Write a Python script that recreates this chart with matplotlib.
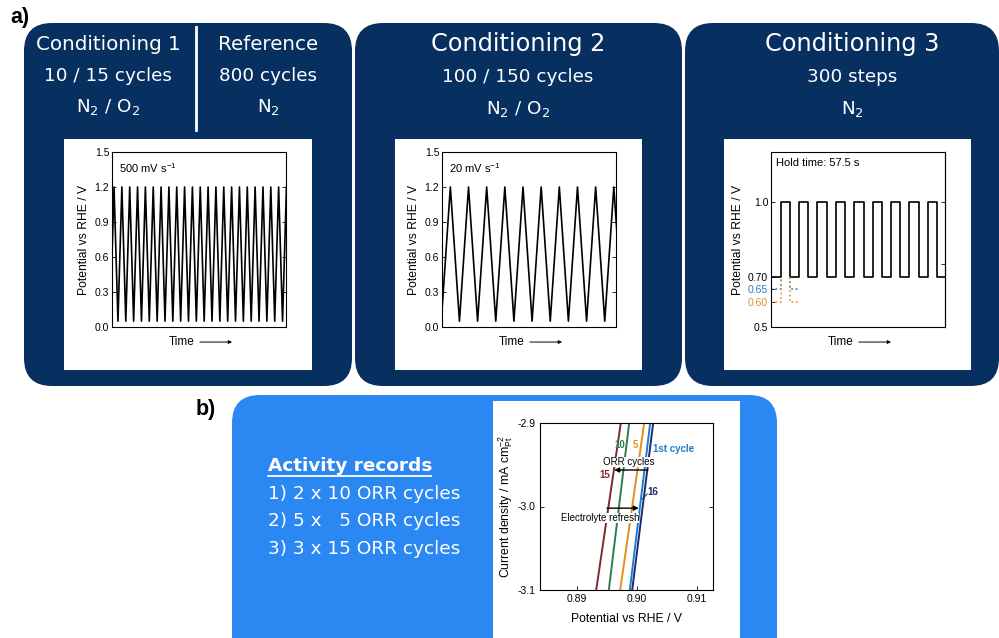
import matplotlib
matplotlib.use("Agg")
import matplotlib.pyplot as plt
from matplotlib.patches import FancyBboxPatch, Rectangle

plt.rcParams['mathtext.fontset'] = 'custom'
plt.rcParams['mathtext.rm'] = 'Liberation Sans'
plt.rcParams['mathtext.it'] = 'Liberation Sans:italic'

W, H = 999, 638
NAVY = '#072f60'
LIGHT = '#2b87f1'
PLOT_FONT = 'Liberation Sans'
BOX_FONT = 'DejaVu Sans'

# --- data ---
# panel a: potential programs
cv_low, cv_high = 0.05, 1.2
fast_cycles = 23
fast_first_peak = 0.26
fast_span = 22.2
slow_cycles = 11
slow_first_peak = 0.46
slow_span = 9.58
step_low, step_high = 0.70, 1.0
step_alt_low = [0.65, 0.60]
step_alt_colors = ['#2a7fc0', '#e3921f']
step_count = 9
step_first_rise = 0.53
step_hold = 0.51
step_span = 9.47

# panel b: ORR polarisation curves (x at j = -3.1 and j = -2.9)
curve_names = ['15', '10', '5', '1st cycle', '16']
curve_x_bottom = [0.8932, 0.8953, 0.8972, 0.8988, 0.8992]
curve_x_top = [0.8973, 0.8987, 0.9012, 0.9022, 0.9027]
curve_colors = ['#7b2a2f', '#2f7d4d', '#e5901d', '#1f7dc9', '#1c2a72']
j_range = [-3.1, -2.9]


fig = plt.figure(figsize=(W / 100, H / 100), dpi=100)
bg = fig.add_axes([0, 0, 1, 1])
bg.set_xlim(0, W)
bg.set_ylim(H, 0)
bg.axis('off')


def box(x0, y0, x1, y1, color, r=28):
    bg.add_patch(FancyBboxPatch((x0, y0), x1 - x0, y1 - y0,
                                boxstyle=f"round,pad=0,rounding_size={r}",
                                fc=color, ec='none', zorder=1))


def white(x0, y0, x1, y1):
    bg.add_patch(Rectangle((x0, y0), x1 - x0, y1 - y0, fc='white', ec='none', zorder=2))


def px_axes(l, t, r, b):
    return fig.add_axes([l / W, 1 - b / H, (r - l) / W, (b - t) / H])


def btxt(x, y, s, size, **kw):
    bg.text(x, y, s, color='white', fontsize=size, family=BOX_FONT,
            math_fontfamily='dejavusans', ha='center', va='center', zorder=3, **kw)


# boxes
box(24, 23, 352, 386, NAVY)
box(355, 23, 682, 386, NAVY)
box(685, 23, 999, 386, NAVY)
box(232, 395, 777, 680, LIGHT)
white(64, 139, 312, 370)
white(395, 139, 642, 370)
white(724, 139, 971, 370)
white(493, 401, 740, 640)

bg.text(10, 18, 'a)', fontsize=15.5, fontweight='bold', family=PLOT_FONT, ha='left', va='center')
bg.text(196, 410, 'b)', fontsize=15.5, fontweight='bold', family=PLOT_FONT, ha='left', va='center')

# box texts
btxt(108, 44, 'Conditioning 1', 14.3)
btxt(108, 76, '10 / 15 cycles', 13.2)
btxt(108, 107, 'N$_2$ / O$_2$', 13.2)
btxt(268, 44, 'Reference', 14.3)
btxt(268, 76, '800 cycles', 13.2)
btxt(268, 107, 'N$_2$', 13.2)
bg.plot([196, 196], [27, 130], color='white', lw=2, zorder=3)
btxt(518, 44, 'Conditioning 2', 17.3)
btxt(518, 77, '100 / 150 cycles', 13.2)
btxt(518, 109, 'N$_2$ / O$_2$', 13.2)
btxt(852, 44, 'Conditioning 3', 17.3)
btxt(852, 77, '300 steps', 13.2)
btxt(852, 109, 'N$_2$', 13.2)

bg.text(268, 466, 'Activity records', color='white', fontsize=13.3, family=BOX_FONT,
        fontweight='bold', ha='left', va='center', zorder=3)
bg.plot([268, 431], [476, 476], color='white', lw=1.3, zorder=3)
for i, s in enumerate(['1) 2 x 10 ORR cycles', '2) 5 x   5 ORR cycles', '3) 3 x 15 ORR cycles']):
    bg.text(268, 494 + 27.5 * i, s, color='white', fontsize=13.3, family=BOX_FONT,
            ha='left', va='center', zorder=3)


def style_small(ax, right=True):
    ax.set_zorder(5)
    ax.tick_params(direction='in', length=3, width=0.6, labelsize=7.5, right=right,
                   bottom=False, labelbottom=False, pad=2)
    for lab in ax.get_yticklabels():
        lab.set_family(PLOT_FONT)
    for sp in ax.spines.values():
        sp.set_linewidth(0.8)
    ax.set_ylabel('Potential vs RHE / V', fontsize=8.7, family=PLOT_FONT, labelpad=3)
    ax.text(0.40, -0.086, 'Time', transform=ax.transAxes, fontsize=8.5,
            family=PLOT_FONT, ha='center', va='center')
    ax.annotate('', xy=(0.69, -0.086), xytext=(0.505, -0.086), xycoords='axes fraction',
                arrowprops=dict(arrowstyle='-|>', lw=0.7, color='k', mutation_scale=5,
                                shrinkA=0, shrinkB=0))


def triangle(first_peak, n):
    t, v = [], []
    for k in range(-1, n):
        t += [first_peak + k - 0.5, first_peak + k]
        v += [cv_low, cv_high]
    return t, v


# plot 1
ax1 = px_axes(112, 152, 286, 327)
t, v = triangle(fast_first_peak, fast_cycles)
ax1.plot(t, v, color='k', lw=1.2)
ax1.set_xlim(0, fast_span)
ax1.set_ylim(0, 1.5)
ax1.set_yticks([0.0, 0.3, 0.6, 0.9, 1.2, 1.5])
ax1.set_yticklabels(['0.0', '0.3', '0.6', '0.9', '1.2', '1.5'])
style_small(ax1)
ax1.text(0.04, 0.95, '500 mV s$^{-1}$', transform=ax1.transAxes, fontsize=8,
         family=PLOT_FONT, ha='left', va='top',
         bbox=dict(fc='white', ec='none', pad=0.5))

# plot 2
ax2 = px_axes(442, 152, 616, 327)
t, v = triangle(slow_first_peak, slow_cycles)
ax2.plot(t, v, color='k', lw=1.2)
ax2.set_xlim(0, slow_span)
ax2.set_ylim(0, 1.5)
ax2.set_yticks([0.0, 0.3, 0.6, 0.9, 1.2, 1.5])
ax2.set_yticklabels(['0.0', '0.3', '0.6', '0.9', '1.2', '1.5'])
style_small(ax2)
ax2.text(0.04, 0.95, '20 mV s$^{-1}$', transform=ax2.transAxes, fontsize=8,
         family=PLOT_FONT, ha='left', va='top')

# plot 3
ax3 = px_axes(771, 152, 945, 327)
t, v = [0], [step_low]
for k in range(step_count):
    r = step_first_rise + k
    t += [r, r, r + step_hold, r + step_hold]
    v += [step_low, step_high, step_high, step_low]
t.append(step_span)
v.append(step_low)
ax3.plot(t, v, color='k', lw=1.2)
fall = step_first_rise + step_hold
for lo, c in zip(step_alt_low, step_alt_colors):
    ax3.plot([0, step_first_rise, step_first_rise], [lo, lo, step_low], color=c, lw=1.2, ls=':')
    ax3.plot([fall, fall, fall + 0.45], [step_low, lo, lo], color=c, lw=1.2, ls=':')
ax3.set_xlim(0, step_span)
ax3.set_ylim(0.5, 1.2)
ax3.set_yticks([0.5, 0.6, 0.65, 0.7, 1.0])
ax3.set_yticklabels(['0.5', '0.60', '0.65', '0.70', '1.0'])
style_small(ax3, right=False)
sec = ax3.secondary_yaxis('right')
sec.set_yticks([0.75, 1.0])
sec.tick_params(direction='in', length=3, width=0.6, labelright=False)
labs = ax3.get_yticklabels()
labs[1].set_color(step_alt_colors[1])
labs[2].set_color(step_alt_colors[0])
ax3.text(0.03, 0.965, 'Hold time: 57.5 s', transform=ax3.transAxes, fontsize=8,
         family=PLOT_FONT, ha='left', va='top')

# panel b
axb = px_axes(540, 423, 713, 590)
axb.set_zorder(5)
for xb, xt, c in zip(curve_x_bottom, curve_x_top, curve_colors):
    axb.plot([xb, xt], j_range, color=c, lw=1.4)
axb.set_xlim(0.88383, 0.91267)
axb.set_ylim(-3.1, -2.9)
axb.set_xticks([0.89, 0.90, 0.91])
axb.set_xticklabels(['0.89', '0.90', '0.91'])
axb.set_yticks([-3.1, -3.0, -2.9])
axb.set_yticklabels(['-3.1', '-3.0', '-2.9'])
axb.tick_params(direction='in', length=3, width=0.6, labelsize=7.5, right=True, pad=3)
for lab in axb.get_xticklabels() + axb.get_yticklabels():
    lab.set_family(PLOT_FONT)
for sp in axb.spines.values():
    sp.set_linewidth(0.8)
axb.set_xlabel('Potential vs RHE / V', fontsize=8.8, family=PLOT_FONT, labelpad=6)
axb.set_ylabel(r'Current density / mA cm$^{-2}_{\mathrm{Pt}}$', fontsize=8.8,
               family=PLOT_FONT, labelpad=2)

# label anchor (x, y, horizontal alignment)
lab_pos = {'15': (0.8955, -2.9623, 'right'), '10': (0.8980, -2.9263, 'right'),
           '5': (0.9002, -2.9263, 'right'), '1st cycle': (0.9027, -2.931, 'left'),
           '16': (0.9018, -2.9826, 'left')}
for name, c in zip(curve_names, curve_colors):
    x, y, ha = lab_pos[name]
    axb.text(x, y, name, color=c, fontsize=7, fontweight='bold', family=PLOT_FONT,
             ha=ha, va='center')
axb.plot([0.9009, 0.9017], [-2.991, -2.985], color=curve_colors[4], lw=0.7)
axb.annotate('', xy=(0.8962, -2.9563), xytext=(0.9018, -2.9563),
             arrowprops=dict(arrowstyle='-|>', lw=1, color='k', mutation_scale=7,
                             shrinkA=0, shrinkB=0))
axb.text(0.8987, -2.9467, 'ORR cycles', fontsize=7, family=PLOT_FONT, ha='center',
         va='center', bbox=dict(fc='white', ec='none', pad=0.3))
axb.annotate('', xy=(0.9003, -3.002), xytext=(0.8950, -3.002),
             arrowprops=dict(arrowstyle='-|>', lw=1, color='k', mutation_scale=7,
                             shrinkA=0, shrinkB=0))
axb.text(0.8938, -3.0138, 'Electrolyte refresh', fontsize=7, family=PLOT_FONT,
         ha='center', va='center', bbox=dict(fc='white', ec='none', pad=0.3))

fig.savefig('out.png', dpi=100)
